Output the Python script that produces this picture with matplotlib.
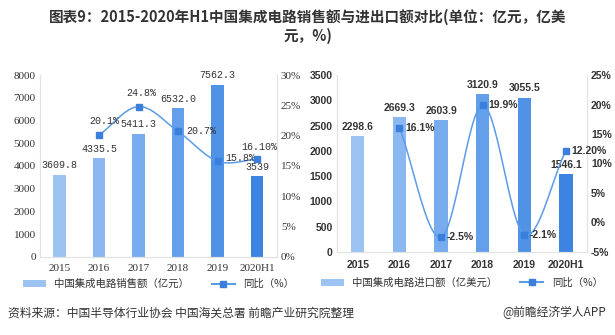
import numpy as np
import matplotlib
matplotlib.use("Agg")
import matplotlib.pyplot as plt
from matplotlib.ticker import FuncFormatter

plt.rcParams['font.family'] = ['Noto Sans CJK SC', 'DejaVu Sans']

years = ["2015", "2016", "2017", "2018", "2019", "2020H1"]
sales = [3609.8, 4335.5, 5411.3, 6532.0, 7562.3, 3539]
sales_labels = ["3609.8", "4335.5", "5411.3", "6532.0", "7562.3", "3539"]
sales_yoy = [20.1, 24.8, 20.7, 15.8, 16.1]
sales_yoy_labels = ["20.1%", "24.8%", "20.7%", "15.8%", "16.10%"]
imports = [2298.6, 2669.3, 2603.9, 3120.9, 3055.5, 1546.1]
imports_yoy = [16.1, -2.5, 19.9, -2.1, 12.2]
imports_yoy_labels = ["16.1%", "-2.5%", "19.9%", "-2.1%", "12.20%"]

bar_colors = ["#9DC3F3", "#8BB8F0", "#78ACEE", "#639FEA", "#4F92E6", "#3C84E0"]
line_c = "#5B9BE8"
mark_c = "#3A7FDB"
txt = "#333333"


def smooth(x, y, n=30):
    # catmull-rom through the points, like excel's smoothed line
    x = np.asarray(x, float); y = np.asarray(y, float)
    px = np.concatenate([[2 * x[0] - x[1]], x, [2 * x[-1] - x[-2]]])
    py = np.concatenate([[2 * y[0] - y[1]], y, [2 * y[-1] - y[-2]]])
    xs, ys = [], []
    t = np.linspace(0, 1, n)
    for i in range(1, len(px) - 2):
        for p, out in ((px, xs), (py, ys)):
            p0, p1, p2, p3 = p[i - 1], p[i], p[i + 1], p[i + 2]
            out.extend(0.5 * ((2 * p1) + (-p0 + p2) * t + (2 * p0 - 5 * p1 + 4 * p2 - p3) * t ** 2
                              + (-p0 + 3 * p1 - 3 * p2 + p3) * t ** 3))
    return xs, ys


fig = plt.figure(figsize=(6.15, 3.35), dpi=100)
fig.text(0.5, 0.95, "图表9：2015-2020年H1中国集成电路销售额与进出口额对比(单位：亿元，亿美",
         ha="center", va="center", fontsize=10.5, fontweight="bold", color=txt)
fig.text(0.5, 0.892, "元，%)", ha="center", va="center", fontsize=10.5, fontweight="bold", color=txt)

x = np.arange(len(years))
serif = ["Liberation Serif", "Noto Sans CJK SC"]
mono = ["Liberation Mono", "Noto Sans CJK SC"]

# ---- left panel: sales
ax1 = fig.add_axes([0.065, 0.233, 0.385, 0.543])
ax1.bar(x, sales, width=0.32, color=bar_colors, label="中国集成电路销售额（亿元）", zorder=2)
ax1.set_ylim(0, 8000)
ax1.set_xlim(-0.5, 5.5)
ax1.set_yticks(range(0, 8001, 1000))
ax1.set_xticks(x)
ax1.set_xticklabels(years)
for i, v in enumerate(sales):
    ax1.text(i, v + 200, sales_labels[i], ha="center", va="bottom", fontsize=7.2, family=mono, color=txt)
ax1b = ax1.twinx()
ax1b.set_ylim(0, 30)
ax1b.set_yticks(range(0, 31, 5))
ax1b.yaxis.set_major_formatter(FuncFormatter(lambda v, p: "%d%%" % v))
sx, sy = smooth(x[1:], sales_yoy)
ax1b.plot(sx, sy, color=line_c, lw=1.1, zorder=3)
ax1b.plot(x[1:], sales_yoy, ls="none", marker="s", ms=4.5, color=mark_c, zorder=4)
ax1b.plot([], [], color=line_c, marker="s", ms=4.5, mfc=mark_c, mec=mark_c, label="同比（%）")
# label placement: (dx, dy, ha)
offs = [(0.12, 2.3, "center"), (0.08, 2.3, "center"), (0.22, 0.0, "left"),
        (0.2, 0.5, "left"), (0.05, 2.0, "center")]
for i, v in enumerate(sales_yoy):
    ox, oy, ha = offs[i]
    ax1b.text(x[i + 1] + ox, v + oy, sales_yoy_labels[i], ha=ha, va="center",
              fontsize=7.2, family=mono, color=txt)
for a in (ax1, ax1b):
    a.tick_params(length=0, labelsize=8, colors=txt, pad=3)
    a.tick_params(axis="x", pad=5)
    for lab in a.get_xticklabels() + a.get_yticklabels():
        lab.set_family(serif)
    for s in a.spines.values():
        s.set_color("#E3E3E3")
    a.spines["top"].set_visible(False)
h1, l1 = ax1.get_legend_handles_labels()
h2, l2 = ax1b.get_legend_handles_labels()
ax1.legend(h1 + h2, l1 + l2, loc="center", bbox_to_anchor=(0.5, -0.15), ncol=2, frameon=False,
           fontsize=7.5, handlelength=2.2, columnspacing=2.2, labelcolor=txt)

# ---- right panel: imports
ax2 = fig.add_axes([0.548, 0.248, 0.406, 0.528])
ax2.bar(x, imports, width=0.32, color=bar_colors, label="中国集成电路进口额（亿美元）", zorder=2)
ax2.set_ylim(0, 3500)
ax2.set_xlim(-0.5, 5.5)
ax2.set_yticks(range(0, 3501, 500))
ax2.set_xticks(x)
ax2.set_xticklabels(years)
for i, v in enumerate(imports):
    ax2.text(i, v + 80, "%.1f" % v, ha="center", va="bottom", fontsize=7.5, fontweight="bold",
             family=["Liberation Sans"], color=txt)
ax2b = ax2.twinx()
ax2b.set_ylim(-5, 25)
ax2b.set_yticks(range(-5, 26, 5))
ax2b.yaxis.set_major_formatter(FuncFormatter(lambda v, p: "%d%%" % v))
sx, sy = smooth(x[1:], imports_yoy)
ax2b.plot(sx, sy, color=line_c, lw=1.1, zorder=3)
ax2b.plot(x[1:], imports_yoy, ls="none", marker="s", ms=4.5, color=mark_c, zorder=4)
ax2b.plot([], [], color=line_c, marker="s", ms=4.5, mfc=mark_c, mec=mark_c, label="同比（%）")
for i, v in enumerate(imports_yoy):
    ax2b.text(x[i + 1] + 0.14, v, imports_yoy_labels[i], ha="left", va="center",
              fontsize=7.5, fontweight="bold", family=["Liberation Sans"], color=txt)
for a in (ax2, ax2b):
    a.tick_params(length=0, labelsize=7.5, colors=txt, pad=3)
    a.tick_params(axis="x", pad=6)
    for lab in a.get_xticklabels() + a.get_yticklabels():
        lab.set_family(["Liberation Sans"])
        lab.set_fontweight("bold")
    for s in a.spines.values():
        s.set_color("#E3E3E3")
    a.spines["top"].set_visible(False)
h1, l1 = ax2.get_legend_handles_labels()
h2, l2 = ax2b.get_legend_handles_labels()
ax2.legend(h1 + h2, l1 + l2, loc="center", bbox_to_anchor=(0.5, -0.175), ncol=2, frameon=False,
           fontsize=7.5, handlelength=2.2, columnspacing=2.2, labelcolor=txt)

fig.text(0.013, 0.066, "资料来源：中国半导体行业协会 中国海关总署 前瞻产业研究院整理",
         ha="left", va="center", fontsize=8.5, color=txt)
fig.text(0.985, 0.066, "@前瞻经济学人APP", ha="right", va="center", fontsize=8.5, color=txt)

fig.savefig("out.png", dpi=100)
